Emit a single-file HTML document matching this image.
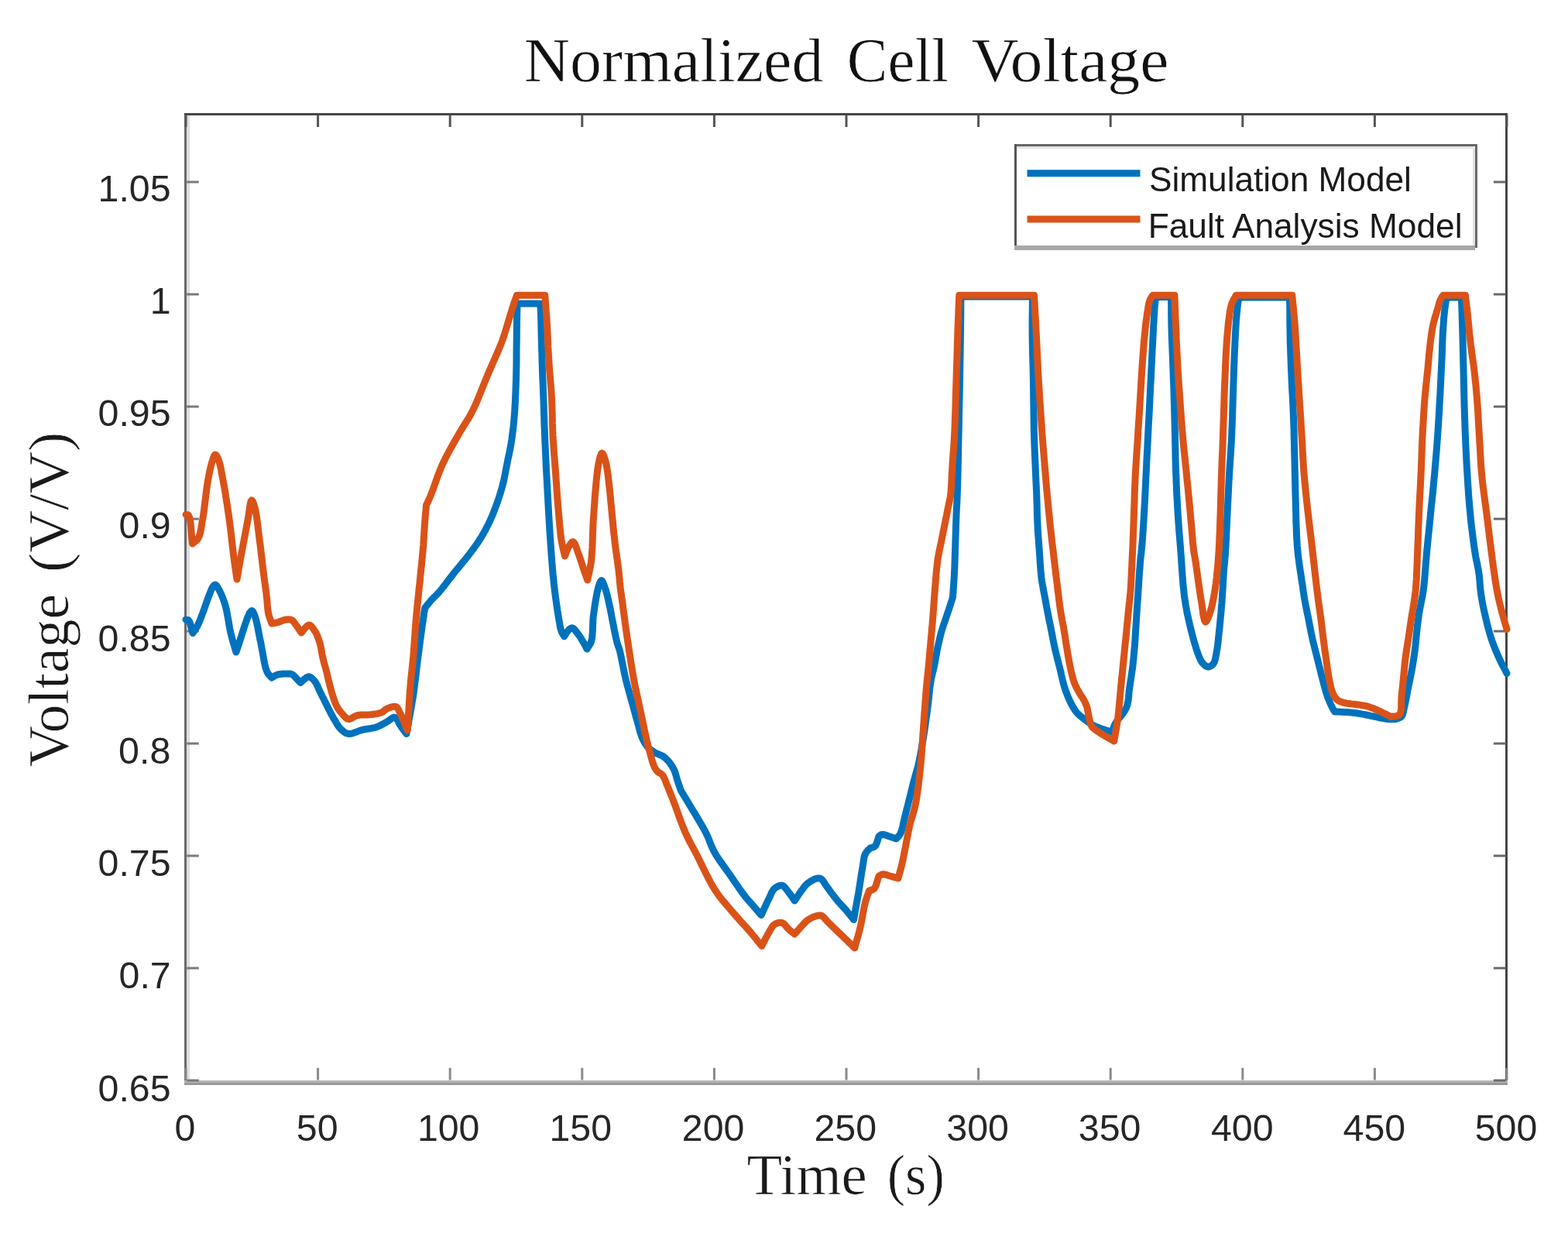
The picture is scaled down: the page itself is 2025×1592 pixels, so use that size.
<!DOCTYPE html><html><head><meta charset="utf-8"><title>Normalized Cell Voltage</title><style>html,body{margin:0;padding:0;background:#fff;width:2025px;height:1592px;overflow:hidden}svg{display:block}</style></head><body>
<svg width="2025" height="1592" viewBox="0 0 2025 1592">
<rect width="2025" height="1592" fill="#fff"/>
<defs><clipPath id="ax"><rect x="241" y="148" width="1704" height="1248"/></clipPath></defs>
<g>
<text transform="translate(676.74,104.50) scale(1.0114,1.0000)" font-family="'Liberation Serif', 'DejaVu Serif', serif" font-size="81" fill="#111" stroke="#fff" stroke-width="0.7">Normalized</text>
<text transform="translate(1093.84,104.50) scale(0.9739,1.0000)" font-family="'Liberation Serif', 'DejaVu Serif', serif" font-size="81" fill="#111" stroke="#fff" stroke-width="0.7">Cell</text>
<text transform="translate(1254.86,104.50) scale(1.0356,1.0000)" font-family="'Liberation Serif', 'DejaVu Serif', serif" font-size="81" fill="#111" stroke="#fff" stroke-width="0.7">Voltage</text>
</g>
<text transform="translate(964.50,1542.00) scale(1.0254,1.0000)" font-family="'Liberation Serif', 'DejaVu Serif', serif" font-size="73" fill="#1a1a1a" stroke="#fff" stroke-width="0.7">Time</text>
<text transform="translate(1145.68,1542.00) scale(0.9646,1.0000)" font-family="'Liberation Serif', 'DejaVu Serif', serif" font-size="73" fill="#1a1a1a" stroke="#fff" stroke-width="0.7">(s)</text>
<text transform="translate(87.50,990.24) rotate(-90) scale(1.0079,1)" font-family="'Liberation Serif', 'DejaVu Serif', serif" font-size="73" fill="#1a1a1a" stroke="#fff" stroke-width="0.7">Voltage</text>
<text transform="translate(87.50,739.04) rotate(-90) scale(1.0411,1)" font-family="'Liberation Serif', 'DejaVu Serif', serif" font-size="73" fill="#1a1a1a" stroke="#fff" stroke-width="0.7">(V/V)</text>
<text transform="translate(126.53,1421.53) scale(1.0000,1.0000)" font-family="'Liberation Sans', Arial, Helvetica, sans-serif" font-size="48.3" fill="#262626">0.65</text>
<text transform="translate(153.58,1276.32) scale(1.0000,1.0000)" font-family="'Liberation Sans', Arial, Helvetica, sans-serif" font-size="48.3" fill="#262626">0.7</text>
<text transform="translate(126.53,1131.11) scale(1.0000,1.0000)" font-family="'Liberation Sans', Arial, Helvetica, sans-serif" font-size="48.3" fill="#262626">0.75</text>
<text transform="translate(153.10,985.90) scale(1.0000,1.0000)" font-family="'Liberation Sans', Arial, Helvetica, sans-serif" font-size="48.3" fill="#262626">0.8</text>
<text transform="translate(126.53,840.69) scale(1.0000,1.0000)" font-family="'Liberation Sans', Arial, Helvetica, sans-serif" font-size="48.3" fill="#262626">0.85</text>
<text transform="translate(153.58,695.48) scale(1.0000,1.0000)" font-family="'Liberation Sans', Arial, Helvetica, sans-serif" font-size="48.3" fill="#262626">0.9</text>
<text transform="translate(126.53,550.27) scale(1.0000,1.0000)" font-family="'Liberation Sans', Arial, Helvetica, sans-serif" font-size="48.3" fill="#262626">0.95</text>
<text transform="translate(193.67,405.06) scale(1.0000,1.0000)" font-family="'Liberation Sans', Arial, Helvetica, sans-serif" font-size="48.3" fill="#262626">1</text>
<text transform="translate(126.53,259.85) scale(1.0000,1.0000)" font-family="'Liberation Sans', Arial, Helvetica, sans-serif" font-size="48.3" fill="#262626">1.05</text>
<text transform="translate(225.48,1472.50) scale(1.0000,1.0000)" font-family="'Liberation Sans', Arial, Helvetica, sans-serif" font-size="48.3" fill="#262626">0</text>
<text transform="translate(382.79,1472.50) scale(1.0000,1.0000)" font-family="'Liberation Sans', Arial, Helvetica, sans-serif" font-size="48.3" fill="#262626">50</text>
<text transform="translate(538.90,1472.50) scale(1.0000,1.0000)" font-family="'Liberation Sans', Arial, Helvetica, sans-serif" font-size="48.3" fill="#262626">100</text>
<text transform="translate(709.50,1472.50) scale(1.0000,1.0000)" font-family="'Liberation Sans', Arial, Helvetica, sans-serif" font-size="48.3" fill="#262626">150</text>
<text transform="translate(880.83,1472.50) scale(1.0000,1.0000)" font-family="'Liberation Sans', Arial, Helvetica, sans-serif" font-size="48.3" fill="#262626">200</text>
<text transform="translate(1051.43,1472.50) scale(1.0000,1.0000)" font-family="'Liberation Sans', Arial, Helvetica, sans-serif" font-size="48.3" fill="#262626">250</text>
<text transform="translate(1222.27,1472.50) scale(1.0000,1.0000)" font-family="'Liberation Sans', Arial, Helvetica, sans-serif" font-size="48.3" fill="#262626">300</text>
<text transform="translate(1392.87,1472.50) scale(1.0000,1.0000)" font-family="'Liberation Sans', Arial, Helvetica, sans-serif" font-size="48.3" fill="#262626">350</text>
<text transform="translate(1563.95,1472.50) scale(1.0000,1.0000)" font-family="'Liberation Sans', Arial, Helvetica, sans-serif" font-size="48.3" fill="#262626">400</text>
<text transform="translate(1734.55,1472.50) scale(1.0000,1.0000)" font-family="'Liberation Sans', Arial, Helvetica, sans-serif" font-size="48.3" fill="#262626">450</text>
<text transform="translate(1904.67,1472.50) scale(1.0000,1.0000)" font-family="'Liberation Sans', Arial, Helvetica, sans-serif" font-size="48.3" fill="#262626">500</text>
<g shape-rendering="crispEdges">
<rect x="238.3" y="146.2" width="3" height="1252" fill="#6a6a6a"/>
<rect x="241.3" y="149" width="3.5" height="1245" fill="#dedede"/>
<rect x="238.3" y="146.2" width="1709" height="2.6" fill="#464646"/>
<rect x="1944.4" y="146.2" width="3" height="1254" fill="#464646"/>
<rect x="238.3" y="1394.5" width="1709" height="3" fill="#b5b5b5"/>
<rect x="238.3" y="1397.5" width="1709" height="3" fill="#999999"/>
</g>
<g><rect x="241.3" y="1393.5" width="15.5" height="3" fill="#7a7a7a"/><rect x="1928.9" y="1393.5" width="15.5" height="3" fill="#6a6a6a"/><rect x="241.3" y="1248.5" width="15.5" height="3" fill="#7a7a7a"/><rect x="1928.9" y="1248.5" width="15.5" height="3" fill="#6a6a6a"/><rect x="241.3" y="1103.5" width="15.5" height="3" fill="#7a7a7a"/><rect x="1928.9" y="1103.5" width="15.5" height="3" fill="#6a6a6a"/><rect x="241.3" y="958.5" width="15.5" height="3" fill="#7a7a7a"/><rect x="1928.9" y="958.5" width="15.5" height="3" fill="#6a6a6a"/><rect x="241.3" y="813.5" width="15.5" height="3" fill="#7a7a7a"/><rect x="1928.9" y="813.5" width="15.5" height="3" fill="#6a6a6a"/><rect x="241.3" y="668.5" width="15.5" height="3" fill="#7a7a7a"/><rect x="1928.9" y="668.5" width="15.5" height="3" fill="#6a6a6a"/><rect x="241.3" y="523.5" width="15.5" height="3" fill="#7a7a7a"/><rect x="1928.9" y="523.5" width="15.5" height="3" fill="#6a6a6a"/><rect x="241.3" y="378.5" width="15.5" height="3" fill="#7a7a7a"/><rect x="1928.9" y="378.5" width="15.5" height="3" fill="#6a6a6a"/><rect x="241.3" y="233.5" width="15.5" height="3" fill="#7a7a7a"/><rect x="1928.9" y="233.5" width="15.5" height="3" fill="#6a6a6a"/><rect x="238.5" y="1378.8" width="3" height="15.7" fill="#8a8a8a"/><rect x="238.5" y="148.8" width="3" height="15.2" fill="#555"/><rect x="409.1" y="1378.8" width="3" height="15.7" fill="#8a8a8a"/><rect x="409.1" y="148.8" width="3" height="15.2" fill="#555"/><rect x="579.7" y="1378.8" width="3" height="15.7" fill="#8a8a8a"/><rect x="579.7" y="148.8" width="3" height="15.2" fill="#555"/><rect x="750.3" y="1378.8" width="3" height="15.7" fill="#8a8a8a"/><rect x="750.3" y="148.8" width="3" height="15.2" fill="#555"/><rect x="920.9" y="1378.8" width="3" height="15.7" fill="#8a8a8a"/><rect x="920.9" y="148.8" width="3" height="15.2" fill="#555"/><rect x="1091.5" y="1378.8" width="3" height="15.7" fill="#8a8a8a"/><rect x="1091.5" y="148.8" width="3" height="15.2" fill="#555"/><rect x="1262.1" y="1378.8" width="3" height="15.7" fill="#8a8a8a"/><rect x="1262.1" y="148.8" width="3" height="15.2" fill="#555"/><rect x="1432.7" y="1378.8" width="3" height="15.7" fill="#8a8a8a"/><rect x="1432.7" y="148.8" width="3" height="15.2" fill="#555"/><rect x="1603.3" y="1378.8" width="3" height="15.7" fill="#8a8a8a"/><rect x="1603.3" y="148.8" width="3" height="15.2" fill="#555"/><rect x="1773.9" y="1378.8" width="3" height="15.7" fill="#8a8a8a"/><rect x="1773.9" y="148.8" width="3" height="15.2" fill="#555"/><rect x="1944.5" y="1378.8" width="3" height="15.7" fill="#8a8a8a"/><rect x="1944.5" y="148.8" width="3" height="15.2" fill="#555"/></g>
<g fill="none" stroke-width="9" stroke-linejoin="round" stroke-linecap="round">
<polyline points="240.0,800.0 240.6,800.1 241.2,800.2 241.8,800.2 242.4,800.4 243.0,800.6 243.5,801.0 244.6,802.6 245.6,805.0 246.4,808.0 247.3,811.3 248.1,814.5 249.0,817.5 250.0,815.9 251.0,814.4 252.0,812.9 253.1,811.4 254.0,809.7 255.0,808.0 256.1,805.7 257.2,803.3 258.2,800.8 259.3,798.1 260.3,795.4 261.4,792.5 262.9,788.6 264.4,784.2 266.0,779.7 267.6,775.2 269.1,771.1 270.5,767.5 271.3,765.5 272.1,763.5 272.8,761.7 273.5,760.1 274.2,758.7 275.0,757.5 275.5,756.9 276.0,756.3 276.5,755.7 277.0,755.3 277.5,755.1 278.0,755.0 278.7,755.3 279.3,755.8 280.0,756.7 280.6,757.7 281.3,758.8 282.0,760.0 283.4,762.4 284.8,765.4 286.3,768.7 287.8,772.3 289.2,776.1 290.5,780.0 292.0,785.6 293.3,791.9 294.5,798.5 295.6,805.1 296.7,811.6 298.0,817.5 299.1,821.9 300.2,826.1 301.4,830.1 302.6,834.0 303.7,838.0 304.9,842.0 308.4,831.9 312.0,820.3 315.7,808.7 319.2,798.6 322.3,791.4 324.9,788.5 325.7,788.7 326.4,789.4 327.1,790.5 327.7,791.9 328.4,793.4 329.0,795.0 330.4,799.2 331.7,804.5 333.0,810.6 334.2,817.2 335.5,823.8 336.8,830.0 338.0,836.5 339.3,843.5 340.5,850.5 341.8,857.2 343.2,863.0 344.9,867.5 345.8,869.2 346.8,870.6 347.9,871.7 348.9,872.8 350.0,873.8 351.0,875.0 352.1,874.3 353.3,873.7 354.4,873.0 355.5,872.3 356.7,871.7 358.0,871.2 359.7,870.8 361.6,870.5 363.6,870.3 365.6,870.1 367.5,870.0 369.2,870.0 370.6,869.9 371.9,869.9 373.1,869.9 374.3,869.9 375.5,870.2 376.8,870.6 378.6,871.7 380.5,873.4 382.3,875.3 384.2,877.4 386.1,879.5 388.0,881.5 388.8,880.7 389.6,880.0 390.4,879.2 391.3,878.4 392.1,877.7 393.0,877.0 394.0,876.3 395.0,875.5 396.0,874.8 397.1,874.2 398.2,873.8 399.2,873.8 400.5,874.1 401.8,874.9 403.1,876.0 404.4,877.2 405.6,878.6 406.8,880.0 408.0,881.8 409.1,883.8 410.1,885.9 411.0,888.1 412.0,890.4 413.0,892.5 414.0,894.6 415.1,896.7 416.1,898.8 417.2,900.8 418.2,902.9 419.2,905.0 420.3,907.1 421.3,909.2 422.4,911.3 423.4,913.4 424.4,915.5 425.5,917.5 426.5,919.5 427.5,921.4 428.5,923.3 429.6,925.2 430.6,927.1 431.8,929.0 433.0,931.1 434.3,933.3 435.6,935.5 437.0,937.6 438.4,939.5 440.0,941.2 441.5,942.7 443.0,944.0 444.6,945.2 446.3,946.3 448.1,947.0 450.0,947.5 452.6,947.5 455.4,946.8 458.3,945.8 461.4,944.6 464.5,943.4 467.5,942.5 470.6,941.8 473.9,941.3 477.1,940.8 480.3,940.2 483.4,939.6 486.2,938.8 488.5,937.9 490.7,936.9 492.8,935.8 494.8,934.7 496.8,933.6 498.8,932.5 500.7,931.3 502.7,929.8 504.7,928.3 506.6,927.1 508.4,926.3 510.0,926.2 511.5,927.1 512.8,928.7 514.0,930.8 515.1,933.2 516.3,935.5 517.5,937.5 518.7,939.2 520.0,940.9 521.2,942.6 522.5,944.2 523.7,945.8 525.0,947.5 526.5,939.2 528.0,930.8 529.5,922.5 531.0,914.2 532.4,905.8 533.8,897.5 534.9,889.1 536.0,880.6 537.1,872.1 538.0,863.6 539.0,855.4 540.0,847.5 540.9,840.8 541.7,834.3 542.6,827.9 543.4,821.7 544.2,815.7 545.0,810.0 545.6,805.5 546.3,801.3 546.9,797.2 547.5,793.1 548.1,789.1 548.8,785.0 549.9,783.5 551.1,782.0 552.2,780.6 553.4,779.1 554.7,777.6 556.0,776.0 557.7,774.1 559.5,772.3 561.4,770.4 563.4,768.4 565.4,766.3 567.5,764.0 570.4,760.5 573.5,756.6 576.6,752.5 579.8,748.3 583.1,744.1 586.2,740.0 589.4,736.1 592.6,732.3 595.8,728.4 598.9,724.6 602.0,720.8 605.0,717.0 607.7,713.5 610.3,710.0 612.8,706.6 615.3,703.1 617.7,699.6 620.0,696.0 622.3,692.3 624.5,688.5 626.6,684.7 628.6,680.9 630.6,676.9 632.5,673.0 634.4,668.9 636.1,664.8 637.8,660.6 639.4,656.4 641.0,652.2 642.5,648.0 643.9,643.9 645.3,639.7 646.5,635.5 647.8,631.4 648.9,627.2 650.0,623.0 651.0,618.9 651.8,614.7 652.6,610.5 653.4,606.3 654.2,602.2 655.0,598.0 655.8,593.9 656.7,589.8 657.6,585.7 658.4,581.6 659.2,577.4 660.0,573.0 660.8,567.9 661.5,562.6 662.2,557.2 662.9,551.7 663.5,546.0 664.0,540.0 664.6,532.3 665.1,524.1 665.5,515.7 665.9,507.1 666.2,498.5 666.5,490.0 666.7,481.5 666.9,472.9 667.0,464.2 667.0,455.7 667.1,447.6 667.2,440.0 667.3,434.5 667.3,429.2 667.4,424.0 667.5,419.2 667.5,414.5 667.6,410.0 667.7,406.7 667.7,403.7 667.8,400.7 667.9,397.8 667.9,394.9 668.0,392.0 698.0,392.0 698.1,395.7 698.2,399.3 698.4,402.9 698.5,406.7 698.6,410.7 698.8,415.0 698.9,422.2 699.1,430.2 699.3,438.8 699.5,447.6 699.8,456.4 700.0,465.0 700.3,473.4 700.6,481.7 700.9,490.1 701.3,498.4 701.6,506.8 701.9,515.0 702.2,522.9 702.4,530.7 702.7,538.4 702.9,546.2 703.2,554.0 703.5,562.0 703.9,570.6 704.3,579.4 704.7,588.2 705.1,597.1 705.5,606.1 706.0,615.0 706.5,624.2 707.0,633.5 707.5,642.8 708.0,652.0 708.5,661.1 709.0,670.0 709.5,677.9 710.0,685.7 710.5,693.4 711.0,700.8 711.5,708.1 712.0,715.0 712.4,720.4 712.8,725.5 713.2,730.5 713.6,735.4 714.0,740.2 714.5,745.0 715.0,749.5 715.4,753.9 715.9,758.3 716.4,762.6 716.9,766.9 717.5,771.2 718.1,775.5 718.7,779.8 719.3,784.0 719.9,788.2 720.6,792.3 721.2,796.2 721.8,799.7 722.4,803.1 722.9,806.4 723.5,809.6 724.2,812.5 725.0,815.0 725.6,816.4 726.2,817.5 726.8,818.6 727.5,819.6 728.1,820.7 728.8,821.8 729.4,820.6 730.1,819.4 730.8,818.2 731.4,817.1 732.2,816.0 733.0,815.0 733.9,814.1 734.8,813.1 735.7,812.1 736.7,811.4 737.7,810.9 738.8,810.8 740.2,811.3 741.7,812.5 743.2,814.2 744.7,816.2 746.2,818.2 747.5,820.0 748.7,821.6 749.8,823.3 750.8,825.0 751.8,826.7 752.8,828.4 753.8,830.0 754.5,831.4 755.3,832.7 756.0,834.0 756.7,835.4 757.4,836.7 758.1,838.0 759.1,836.3 760.1,834.7 761.1,833.2 762.1,831.5 763.0,829.6 763.8,827.5 764.6,823.3 765.1,818.3 765.4,812.8 765.6,807.1 765.8,801.5 766.2,796.2 766.8,791.9 767.4,787.5 768.0,783.2 768.6,779.1 769.3,775.1 770.0,771.2 770.6,768.2 771.1,765.2 771.7,762.3 772.4,759.6 773.0,757.1 773.8,755.0 774.2,753.8 774.7,752.5 775.3,751.3 775.8,750.4 776.4,749.7 776.9,749.5 777.6,749.9 778.3,751.1 779.1,752.8 779.8,754.7 780.6,756.8 781.2,758.8 782.2,761.4 783.0,764.4 783.9,767.5 784.7,770.8 785.5,774.1 786.2,777.5 787.1,781.4 788.0,785.5 788.8,789.7 789.6,793.9 790.4,798.2 791.2,802.5 792.2,807.2 793.1,812.1 794.1,817.0 795.1,821.8 796.1,826.2 797.0,830.0 797.6,831.9 798.1,833.5 798.6,834.9 799.2,836.4 799.7,838.0 800.3,840.0 801.5,844.9 802.7,850.8 804.0,857.4 805.4,864.3 806.8,871.2 808.3,877.7 809.9,884.1 811.7,890.6 813.5,897.1 815.2,903.4 817.0,909.5 818.5,915.0 819.5,918.7 820.4,922.2 821.3,925.5 822.2,928.6 823.1,931.8 824.0,935.0 824.9,938.1 825.7,941.2 826.5,944.3 827.4,947.4 828.4,950.3 829.5,953.0 830.6,955.2 831.7,957.4 832.9,959.5 834.2,961.5 835.6,963.3 837.0,965.0 838.4,966.4 839.8,967.6 841.4,968.7 842.9,969.8 844.5,970.9 846.0,972.0 847.9,972.8 849.8,973.5 851.7,974.3 853.5,975.1 855.3,976.0 857.0,977.0 858.5,978.1 859.9,979.4 861.3,980.7 862.6,982.1 863.8,983.5 865.0,985.0 866.1,986.5 867.2,988.1 868.3,989.8 869.2,991.5 870.2,993.2 871.0,995.0 871.8,997.0 872.5,999.2 873.1,1001.4 873.7,1003.6 874.3,1005.8 875.0,1008.0 875.7,1010.2 876.5,1012.3 877.2,1014.5 878.0,1016.7 878.7,1018.8 879.5,1021.0 881.4,1024.1 883.2,1027.1 885.1,1030.1 886.9,1033.2 888.9,1036.5 891.0,1040.0 894.2,1045.3 897.8,1051.2 901.5,1057.4 905.2,1063.6 908.7,1069.7 911.7,1075.4 913.7,1079.7 915.5,1083.8 917.0,1087.9 918.6,1091.9 920.4,1095.9 922.5,1100.0 925.4,1104.9 928.7,1110.0 932.3,1115.0 935.9,1120.1 939.5,1125.1 943.0,1130.0 946.2,1134.7 949.5,1139.5 952.8,1144.3 955.9,1148.9 958.9,1153.0 961.5,1156.5 962.8,1158.2 964.0,1159.6 965.1,1160.9 966.2,1162.2 967.4,1163.5 968.7,1165.0 970.9,1167.4 973.2,1170.1 975.6,1172.9 978.1,1175.8 980.7,1178.7 983.1,1181.5 984.9,1177.6 986.7,1173.6 988.6,1169.6 990.4,1165.7 992.1,1162.1 993.8,1158.8 994.8,1156.6 995.7,1154.4 996.6,1152.4 997.6,1150.6 998.7,1148.9 1000.0,1147.5 1001.5,1146.3 1003.1,1145.2 1004.9,1144.2 1006.7,1143.5 1008.4,1143.2 1010.0,1143.2 1011.6,1143.9 1013.1,1145.2 1014.6,1146.9 1016.0,1148.8 1017.4,1150.7 1018.8,1152.5 1020.1,1154.2 1021.3,1155.9 1022.6,1157.7 1023.8,1159.5 1025.0,1161.2 1026.2,1163.0 1027.7,1160.8 1029.1,1158.6 1030.6,1156.4 1032.0,1154.2 1033.5,1152.0 1035.0,1150.0 1036.4,1148.2 1037.7,1146.4 1039.0,1144.6 1040.5,1142.9 1042.0,1141.4 1043.8,1140.0 1046.0,1138.5 1048.5,1136.9 1051.2,1135.5 1053.9,1134.4 1056.5,1133.9 1058.8,1134.0 1060.7,1135.0 1062.4,1136.7 1064.0,1138.9 1065.5,1141.4 1067.1,1143.9 1068.8,1146.2 1070.8,1148.8 1072.8,1151.6 1074.9,1154.4 1077.0,1157.2 1079.2,1159.9 1081.2,1162.5 1083.1,1164.7 1085.0,1166.8 1086.9,1168.9 1088.8,1170.9 1090.7,1172.9 1092.5,1175.0 1094.2,1177.1 1095.9,1179.1 1097.6,1181.2 1099.2,1183.3 1100.8,1185.3 1102.5,1187.4 1103.6,1181.6 1104.6,1175.7 1105.7,1169.8 1106.7,1164.0 1107.8,1158.2 1108.8,1152.5 1109.6,1147.1 1110.5,1141.7 1111.3,1136.3 1112.1,1131.0 1112.9,1126.0 1113.8,1121.2 1114.3,1117.7 1114.8,1114.3 1115.3,1111.0 1115.8,1107.9 1116.5,1105.0 1117.5,1102.5 1118.4,1101.0 1119.4,1099.6 1120.4,1098.4 1121.6,1097.3 1122.7,1096.2 1123.8,1095.0 1124.8,1094.6 1125.9,1094.4 1127.0,1094.1 1128.1,1093.7 1129.1,1093.2 1130.0,1092.5 1131.1,1091.0 1132.0,1089.1 1132.8,1086.9 1133.5,1084.6 1134.2,1082.2 1135.0,1080.0 1135.6,1079.5 1136.2,1079.0 1136.7,1078.5 1137.3,1078.1 1138.0,1077.7 1138.8,1077.5 1140.1,1077.5 1141.7,1077.7 1143.5,1078.2 1145.3,1078.8 1147.1,1079.5 1148.8,1080.0 1150.2,1080.5 1151.7,1081.0 1153.2,1081.5 1154.6,1082.0 1156.0,1082.5 1157.5,1083.0 1158.4,1081.9 1159.4,1080.9 1160.3,1079.8 1161.3,1078.7 1162.2,1077.5 1163.0,1076.0 1164.1,1073.2 1165.1,1069.9 1166.0,1066.3 1166.8,1062.5 1167.6,1058.7 1168.5,1055.0 1169.4,1051.4 1170.3,1047.7 1171.2,1044.1 1172.2,1040.4 1173.1,1036.7 1174.0,1033.0 1175.0,1029.1 1176.0,1025.1 1177.0,1021.1 1178.0,1017.0 1179.0,1013.0 1180.0,1009.0 1181.1,1005.1 1182.2,1001.2 1183.3,997.3 1184.4,993.4 1185.5,989.3 1186.5,985.0 1187.7,979.3 1188.9,973.3 1190.0,967.1 1191.1,960.7 1192.2,954.3 1193.2,948.0 1194.2,941.7 1195.1,935.2 1196.0,928.8 1196.9,922.4 1197.7,916.1 1198.5,910.0 1199.1,904.7 1199.7,899.5 1200.2,894.4 1200.7,889.4 1201.3,884.6 1202.0,880.0 1202.7,876.4 1203.4,873.1 1204.2,869.9 1205.0,866.6 1205.8,863.4 1206.5,860.0 1207.3,856.1 1208.0,852.1 1208.7,848.0 1209.5,844.0 1210.2,839.9 1211.0,836.0 1211.8,832.4 1212.6,828.8 1213.4,825.3 1214.2,821.8 1215.1,818.4 1216.0,815.0 1216.9,811.9 1217.9,808.8 1219.0,805.8 1220.0,802.8 1221.0,799.9 1222.0,797.0 1222.9,794.4 1223.7,791.8 1224.6,789.3 1225.4,786.8 1226.2,784.4 1227.0,782.0 1227.6,780.1 1228.2,778.2 1228.8,776.4 1229.4,774.6 1229.9,772.8 1230.5,771.0 1230.8,765.9 1231.2,760.8 1231.6,755.7 1231.9,750.6 1232.2,745.3 1232.5,740.0 1232.8,734.0 1233.0,727.8 1233.2,721.5 1233.4,715.1 1233.6,708.8 1233.8,702.5 1234.0,696.2 1234.2,689.7 1234.4,683.3 1234.6,676.9 1234.8,670.8 1235.0,665.0 1235.2,660.7 1235.4,656.8 1235.6,653.0 1235.8,649.2 1236.0,644.9 1236.2,640.0 1236.6,629.7 1236.9,617.7 1237.2,604.5 1237.5,590.8 1237.7,577.1 1238.0,564.0 1238.3,551.5 1238.5,539.0 1238.8,526.5 1239.0,514.2 1239.3,502.0 1239.5,490.0 1239.7,479.2 1239.9,468.4 1240.1,457.8 1240.2,447.4 1240.4,437.2 1240.5,427.5 1240.6,419.6 1240.7,412.1 1240.8,404.8 1240.8,397.6 1240.9,390.3 1241.0,383.0 1333.5,383.0 1333.4,390.3 1333.3,397.6 1333.2,404.8 1333.1,412.1 1333.1,419.6 1333.1,427.5 1333.2,437.2 1333.4,447.4 1333.6,457.8 1333.9,468.4 1334.2,479.2 1334.4,490.0 1334.6,502.0 1334.7,514.2 1334.9,526.5 1335.1,539.0 1335.3,551.5 1335.6,564.0 1336.0,576.9 1336.6,590.2 1337.2,603.6 1337.7,616.6 1338.3,628.9 1338.8,640.0 1339.0,647.0 1339.2,653.5 1339.3,659.6 1339.5,665.5 1339.7,671.4 1340.0,677.5 1340.3,683.8 1340.7,690.1 1341.2,696.5 1341.6,702.8 1342.1,708.9 1342.5,715.0 1342.9,720.4 1343.2,725.8 1343.6,731.2 1344.0,736.4 1344.5,741.4 1345.0,746.2 1345.5,750.1 1346.1,753.8 1346.8,757.4 1347.4,761.0 1348.1,764.5 1348.8,768.0 1349.4,771.4 1350.0,774.6 1350.6,777.9 1351.2,781.2 1351.8,784.5 1352.5,788.0 1353.3,792.0 1354.1,796.1 1354.9,800.3 1355.8,804.6 1356.7,808.8 1357.5,813.0 1358.3,817.2 1359.1,821.3 1359.9,825.5 1360.7,829.7 1361.6,833.8 1362.5,838.0 1363.5,842.2 1364.5,846.3 1365.5,850.5 1366.6,854.7 1367.7,858.8 1368.8,863.0 1369.8,867.2 1370.7,871.5 1371.7,875.8 1372.7,880.0 1373.8,884.1 1375.0,888.0 1376.1,891.4 1377.3,894.6 1378.5,897.8 1379.8,900.9 1381.1,903.9 1382.5,906.8 1383.7,909.1 1384.9,911.4 1386.2,913.6 1387.5,915.7 1388.8,917.6 1390.0,919.2 1390.8,920.2 1391.5,921.1 1392.3,921.8 1393.1,922.6 1394.0,923.4 1395.0,924.2 1397.2,926.1 1399.9,928.2 1402.8,930.5 1405.9,932.7 1409.2,934.9 1412.5,936.8 1416.2,938.5 1420.0,940.0 1424.1,941.4 1428.1,942.8 1432.2,944.1 1436.2,945.5 1436.8,943.8 1437.3,942.1 1437.8,940.4 1438.4,938.7 1439.1,936.9 1440.0,935.0 1442.0,931.8 1444.6,928.3 1447.5,924.7 1450.4,920.9 1453.0,917.0 1455.0,913.0 1456.2,909.0 1457.0,904.9 1457.5,900.7 1457.9,896.5 1458.2,892.2 1458.8,888.0 1459.4,883.8 1460.0,879.7 1460.7,875.5 1461.3,871.3 1461.9,867.2 1462.5,863.0 1463.0,858.9 1463.4,854.9 1463.9,850.8 1464.2,846.7 1464.6,842.5 1465.0,838.0 1465.5,832.2 1465.9,826.1 1466.3,819.7 1466.7,813.3 1467.1,806.8 1467.5,800.5 1467.9,794.2 1468.3,788.0 1468.7,781.7 1469.2,775.5 1469.6,769.2 1470.0,763.0 1470.4,756.8 1470.8,750.5 1471.2,744.3 1471.6,738.1 1472.1,732.2 1472.5,726.5 1472.9,722.1 1473.3,718.0 1473.8,714.0 1474.2,710.0 1474.6,705.9 1475.0,701.5 1475.5,695.8 1475.9,689.8 1476.3,683.6 1476.7,677.2 1477.1,670.7 1477.5,664.0 1477.9,656.1 1478.4,647.9 1478.8,639.5 1479.2,630.9 1479.6,622.4 1480.0,614.0 1480.4,605.7 1480.8,597.3 1481.2,589.0 1481.7,580.6 1482.1,572.3 1482.5,564.0 1482.9,555.8 1483.3,547.6 1483.8,539.5 1484.2,531.4 1484.6,523.2 1485.0,515.0 1485.4,506.6 1485.8,498.1 1486.3,489.6 1486.7,481.2 1487.1,472.9 1487.5,465.0 1487.8,458.4 1488.1,452.0 1488.5,445.7 1488.8,439.5 1489.1,433.5 1489.4,427.5 1489.7,422.0 1490.0,416.4 1490.3,410.8 1490.6,405.5 1490.9,400.6 1491.2,396.2 1491.5,393.8 1491.7,391.6 1491.9,389.5 1492.1,387.5 1492.3,385.6 1492.5,383.5 1512.5,383.5 1512.6,390.8 1512.7,398.1 1512.7,405.3 1512.8,412.6 1512.9,420.0 1513.1,427.5 1513.3,435.7 1513.7,444.2 1514.0,452.7 1514.4,461.2 1514.7,469.5 1515.0,477.5 1515.2,484.0 1515.4,490.2 1515.7,496.3 1515.9,502.3 1516.1,508.5 1516.2,515.0 1516.5,522.8 1516.7,530.8 1516.9,539.1 1517.1,547.4 1517.3,555.7 1517.5,564.0 1517.7,572.3 1517.9,580.6 1518.0,589.0 1518.2,597.3 1518.5,605.7 1518.8,614.0 1519.1,622.3 1519.4,630.7 1519.8,639.0 1520.3,647.3 1520.7,655.7 1521.2,664.0 1521.8,672.3 1522.4,680.7 1523.0,689.0 1523.7,697.4 1524.4,705.7 1525.0,714.0 1525.6,722.4 1526.2,731.0 1526.8,739.6 1527.4,747.9 1528.0,755.8 1528.8,763.0 1529.3,767.8 1529.9,772.3 1530.6,776.6 1531.2,780.7 1531.9,784.5 1532.5,788.0 1532.9,790.2 1533.3,792.2 1533.7,794.0 1534.1,795.8 1534.5,797.8 1535.0,800.0 1535.9,803.7 1536.8,807.8 1537.9,812.1 1539.0,816.6 1540.1,820.9 1541.2,825.0 1542.2,828.5 1543.3,832.1 1544.3,835.6 1545.3,838.9 1546.4,842.1 1547.5,845.0 1548.3,847.1 1549.2,849.1 1550.0,851.1 1550.9,852.9 1551.9,854.5 1553.0,856.0 1554.0,857.2 1555.2,858.3 1556.3,859.3 1557.6,860.2 1558.8,860.7 1560.0,861.0 1561.2,860.9 1562.4,860.5 1563.7,859.9 1564.9,859.1 1566.0,858.1 1567.0,857.0 1568.2,855.0 1569.1,852.4 1569.8,849.4 1570.4,846.3 1571.0,843.1 1571.5,840.0 1572.1,836.8 1572.5,833.6 1572.9,830.3 1573.3,826.9 1573.6,823.5 1574.0,820.0 1574.4,816.0 1574.9,811.9 1575.3,807.7 1575.7,803.4 1576.1,799.2 1576.5,795.0 1576.9,790.9 1577.2,786.8 1577.5,782.7 1577.9,778.6 1578.2,774.4 1578.5,770.0 1578.8,764.8 1579.2,759.3 1579.5,753.7 1579.8,748.1 1580.1,742.7 1580.5,737.5 1580.8,733.5 1581.2,729.7 1581.5,726.1 1581.8,722.3 1582.2,718.4 1582.5,714.0 1582.9,706.7 1583.4,698.7 1583.8,690.2 1584.2,681.4 1584.6,672.5 1585.0,664.0 1585.4,655.7 1585.8,647.3 1586.2,639.0 1586.6,630.7 1587.0,622.3 1587.5,614.0 1588.0,605.8 1588.5,597.7 1589.1,589.6 1589.6,581.4 1590.1,572.9 1590.6,564.0 1591.1,552.3 1591.5,539.9 1591.9,527.0 1592.3,514.1 1592.7,501.7 1593.1,490.0 1593.4,481.0 1593.7,472.2 1594.0,463.7 1594.3,455.4 1594.7,447.5 1595.0,440.0 1595.3,434.3 1595.6,428.8 1595.9,423.5 1596.2,418.4 1596.5,413.5 1596.9,408.8 1597.3,404.8 1597.7,400.7 1598.1,396.7 1598.5,393.1 1599.0,389.9 1599.4,387.5 1599.6,386.7 1599.8,386.1 1599.9,385.6 1600.1,385.1 1600.3,384.5 1600.5,384.0 1665.6,384.0 1665.7,393.4 1665.8,402.8 1665.8,412.2 1665.9,421.6 1666.1,430.9 1666.2,440.0 1666.5,448.6 1666.8,457.1 1667.1,465.6 1667.4,474.0 1667.8,482.1 1668.1,490.0 1668.4,496.6 1668.7,502.9 1669.1,509.1 1669.4,515.2 1669.7,521.3 1670.0,527.5 1670.2,533.5 1670.5,539.2 1670.7,545.0 1670.9,550.9 1671.1,557.2 1671.2,564.0 1671.5,575.2 1671.8,587.6 1672.1,600.8 1672.4,614.3 1672.7,627.5 1673.0,640.0 1673.3,650.7 1673.6,661.5 1673.8,672.1 1674.2,682.2 1674.5,691.6 1675.0,700.0 1675.3,704.8 1675.7,709.1 1676.1,713.2 1676.5,717.1 1677.0,721.0 1677.5,725.0 1678.1,729.2 1678.7,733.3 1679.3,737.5 1680.0,741.7 1680.6,745.8 1681.2,750.0 1681.9,754.2 1682.5,758.3 1683.0,762.5 1683.7,766.7 1684.3,770.8 1685.0,775.0 1685.8,779.2 1686.6,783.3 1687.4,787.5 1688.3,791.7 1689.2,795.8 1690.0,800.0 1690.8,804.2 1691.6,808.3 1692.4,812.5 1693.2,816.7 1694.1,820.8 1695.0,825.0 1696.0,829.2 1697.0,833.3 1698.0,837.5 1699.1,841.7 1700.2,845.8 1701.2,850.0 1702.3,854.2 1703.3,858.4 1704.4,862.6 1705.4,866.8 1706.4,870.9 1707.5,875.0 1708.5,878.9 1709.5,882.8 1710.5,886.6 1711.6,890.4 1712.6,894.0 1713.8,897.5 1714.7,900.3 1715.8,903.0 1716.9,905.6 1717.9,908.1 1719.0,910.4 1720.0,912.5 1720.6,913.8 1721.3,914.9 1721.9,915.9 1722.5,916.9 1723.1,918.0 1723.8,919.0 1725.8,919.1 1727.8,919.1 1729.8,919.1 1731.9,919.2 1734.0,919.3 1736.2,919.4 1739.2,919.6 1742.2,919.8 1745.4,920.1 1748.6,920.4 1751.8,920.8 1755.0,921.2 1758.1,921.8 1761.3,922.4 1764.4,923.0 1767.5,923.7 1770.6,924.4 1773.8,925.0 1776.9,925.6 1780.2,926.3 1783.5,927.0 1786.7,927.6 1789.7,928.2 1792.5,928.5 1794.3,928.6 1796.1,928.7 1797.7,928.6 1799.3,928.6 1800.9,928.5 1802.5,928.5 1803.8,928.0 1805.1,927.5 1806.5,927.1 1807.8,926.6 1809.0,925.9 1810.0,925.0 1811.0,923.5 1811.7,921.7 1812.3,919.6 1812.7,917.3 1813.2,914.9 1813.8,912.5 1814.6,908.8 1815.4,904.8 1816.3,900.5 1817.1,896.2 1817.9,891.8 1818.8,887.5 1819.6,883.3 1820.5,879.2 1821.3,875.0 1822.2,870.8 1823.0,866.7 1823.8,862.5 1824.5,858.3 1825.1,854.2 1825.8,850.0 1826.4,845.8 1827.0,841.7 1827.5,837.5 1828.0,833.3 1828.4,829.1 1828.8,824.9 1829.2,820.7 1829.6,816.6 1830.0,812.5 1830.4,808.7 1830.9,805.0 1831.4,801.3 1831.9,797.6 1832.4,793.8 1833.0,790.0 1833.8,785.7 1834.6,781.5 1835.5,777.2 1836.4,772.7 1837.3,768.0 1838.1,763.0 1839.0,755.7 1839.8,747.8 1840.4,739.5 1841.1,730.9 1841.8,722.4 1842.5,714.0 1843.3,705.7 1844.1,697.4 1845.0,689.0 1845.8,680.7 1846.7,672.3 1847.5,664.0 1848.3,655.7 1849.2,647.3 1850.1,639.0 1850.9,630.7 1851.7,622.3 1852.5,614.0 1853.2,605.7 1853.9,597.3 1854.6,589.0 1855.3,580.6 1855.9,572.3 1856.5,564.0 1857.1,555.8 1857.6,547.7 1858.1,539.5 1858.6,531.4 1859.0,523.2 1859.5,515.0 1860.0,506.6 1860.4,498.1 1860.8,489.6 1861.2,481.2 1861.6,472.9 1862.0,465.0 1862.3,458.4 1862.5,451.8 1862.7,445.4 1862.9,439.2 1863.2,433.2 1863.5,427.5 1863.8,423.0 1864.1,418.6 1864.4,414.4 1864.7,410.4 1865.1,406.4 1865.5,402.5 1865.9,399.3 1866.3,396.1 1866.7,393.1 1867.1,390.1 1867.6,387.1 1868.0,384.0 1887.5,384.0 1887.7,391.2 1887.9,398.4 1888.1,405.6 1888.3,412.8 1888.5,420.1 1888.8,427.5 1889.0,435.6 1889.2,443.9 1889.4,452.3 1889.6,460.7 1889.8,469.1 1890.0,477.5 1890.2,485.9 1890.4,494.5 1890.6,503.0 1890.8,511.4 1891.0,519.6 1891.2,527.5 1891.4,533.8 1891.6,539.9 1891.8,545.8 1892.0,551.6 1892.2,557.7 1892.5,564.0 1892.8,571.9 1893.2,580.1 1893.6,588.5 1894.0,597.0 1894.5,605.6 1895.0,614.0 1895.5,622.3 1896.1,630.7 1896.6,639.0 1897.3,647.3 1898.0,655.7 1898.8,664.0 1899.6,672.5 1900.6,681.3 1901.7,690.0 1902.8,698.6 1903.9,706.6 1905.0,714.0 1905.8,718.8 1906.7,723.3 1907.6,727.5 1908.4,731.6 1909.2,735.7 1909.9,740.0 1910.5,744.6 1910.9,749.3 1911.3,754.1 1911.7,758.8 1912.2,763.6 1912.8,768.3 1913.6,773.0 1914.4,777.7 1915.3,782.4 1916.3,787.1 1917.3,791.8 1918.4,796.5 1919.5,801.3 1920.7,806.1 1921.9,810.9 1923.2,815.6 1924.6,820.3 1926.0,824.8 1927.4,828.9 1928.9,832.9 1930.5,836.9 1932.1,840.8 1933.7,844.6 1935.4,848.4 1937.1,852.0 1938.8,855.6 1940.6,859.1 1942.4,862.5 1944.2,866.0 1946.0,869.5" stroke="#0072BD"/>
<polyline points="240.0,664.5 240.6,664.6 241.2,664.6 241.8,664.7 242.4,664.8 243.0,665.0 243.5,665.5 244.9,668.6 245.9,673.9 246.6,680.6 247.2,688.0 247.8,695.3 248.5,702.0 249.8,700.9 251.1,699.9 252.4,698.9 253.7,697.8 254.9,696.6 256.0,695.0 257.4,691.9 258.5,688.3 259.4,684.1 260.2,679.6 260.9,674.9 261.8,670.0 263.0,662.5 264.1,653.9 265.2,644.9 266.3,635.9 267.4,627.5 268.6,620.0 269.5,615.3 270.3,610.9 271.2,606.7 272.1,602.8 273.0,599.2 274.0,596.0 274.6,594.0 275.3,592.0 275.9,590.1 276.6,588.5 277.3,587.4 278.0,587.0 278.6,587.2 279.3,587.9 280.0,588.9 280.7,590.1 281.4,591.5 282.0,593.0 283.1,596.2 284.2,600.2 285.2,604.7 286.1,609.6 287.0,614.8 288.0,620.0 289.4,627.4 290.8,635.5 292.1,644.0 293.5,652.7 294.8,661.5 296.0,670.0 297.1,678.5 298.2,687.2 299.2,695.9 300.1,704.4 301.1,712.5 302.0,720.0 302.7,725.1 303.4,729.9 304.0,734.5 304.7,739.0 305.3,743.4 306.0,748.0 306.8,743.4 307.6,739.0 308.3,734.5 309.1,729.9 310.0,725.1 310.9,720.0 312.3,712.3 313.9,703.7 315.6,694.8 317.3,685.9 318.9,677.4 320.3,670.0 321.1,665.0 321.9,659.6 322.6,654.5 323.3,650.2 324.1,647.2 325.0,646.0 325.6,646.3 326.3,647.3 327.0,648.9 327.7,650.8 328.4,652.9 329.0,655.0 330.2,659.9 331.2,666.0 332.2,672.9 333.1,680.3 334.0,687.7 334.9,695.0 336.0,703.2 337.0,711.9 338.1,720.8 339.1,729.5 340.1,737.7 341.0,745.0 341.6,749.5 342.2,753.7 342.7,757.6 343.2,761.3 343.8,765.1 344.2,769.0 344.7,773.0 345.0,777.1 345.3,781.2 345.7,785.2 346.1,789.0 346.8,792.5 347.3,794.8 348.0,797.0 348.7,799.0 349.5,801.0 350.3,803.0 351.0,805.0 352.1,804.8 353.3,804.6 354.4,804.5 355.6,804.3 356.7,804.0 358.0,803.8 359.8,803.2 361.6,802.5 363.6,801.7 365.6,801.0 367.5,800.4 369.2,800.0 370.6,799.9 371.9,799.8 373.2,799.8 374.4,799.9 375.6,800.1 376.8,800.6 377.9,801.4 379.0,802.5 380.0,803.8 381.0,805.2 382.0,806.6 383.0,808.0 384.1,809.4 385.1,810.9 386.2,812.4 387.2,814.0 388.2,815.5 389.2,817.0 390.0,816.0 390.8,814.9 391.6,813.9 392.3,812.9 393.2,811.9 394.0,811.0 394.8,810.1 395.7,809.2 396.5,808.3 397.4,807.6 398.3,807.1 399.2,807.0 400.5,807.4 401.8,808.4 403.1,809.8 404.4,811.5 405.6,813.3 406.8,815.0 408.0,817.1 409.2,819.5 410.2,822.0 411.2,824.6 412.1,827.3 413.0,830.0 413.8,833.0 414.4,836.1 415.0,839.2 415.5,842.4 416.1,845.6 416.8,848.8 417.5,851.9 418.3,854.9 419.1,858.0 420.0,861.1 420.9,864.2 421.8,867.5 422.7,871.5 423.7,875.7 424.7,880.0 425.8,884.3 426.9,888.5 428.0,892.5 429.0,896.0 430.1,899.4 431.2,902.8 432.3,906.0 433.6,909.1 435.0,912.0 436.3,914.3 437.7,916.5 439.2,918.5 440.8,920.4 442.3,922.2 443.8,923.8 444.8,924.8 445.8,925.9 446.7,926.8 447.7,927.6 448.8,928.2 450.0,928.5 451.6,928.4 453.3,927.7 455.2,926.7 457.1,925.5 459.1,924.5 461.2,923.8 464.1,923.3 467.3,923.0 470.5,922.9 473.8,922.9 477.0,922.8 480.0,922.5 482.3,922.2 484.5,921.9 486.7,921.6 488.7,921.2 490.7,920.6 492.5,920.0 493.9,919.3 495.1,918.4 496.3,917.5 497.4,916.6 498.6,915.7 500.0,915.0 501.8,914.2 503.7,913.5 505.8,912.8 507.8,912.3 509.6,912.2 511.2,912.5 512.6,913.4 513.7,914.7 514.7,916.5 515.6,918.4 516.5,920.4 517.5,922.5 518.9,925.5 520.4,928.8 521.9,932.3 523.3,935.9 524.8,939.5 526.2,943.0 526.9,933.2 527.5,923.2 528.1,913.2 528.7,903.4 529.3,893.9 530.0,885.0 530.6,878.3 531.2,872.1 531.9,866.1 532.5,860.1 533.1,854.0 533.8,847.5 534.4,839.5 535.0,831.1 535.6,822.5 536.2,813.9 536.8,805.5 537.5,797.5 538.1,791.0 538.7,784.8 539.3,778.7 539.9,772.7 540.6,766.5 541.2,760.0 542.1,752.0 542.9,743.6 543.8,735.0 544.7,726.4 545.5,718.0 546.2,710.0 546.8,703.3 547.2,696.7 547.6,690.2 548.0,684.0 548.4,678.0 548.8,672.5 549.1,668.7 549.4,665.2 549.7,661.9 550.0,658.6 550.3,655.3 550.6,652.0 551.5,650.1 552.4,648.3 553.2,646.5 554.1,644.5 555.1,642.4 556.1,640.0 558.2,634.7 560.4,628.4 562.9,621.4 565.5,614.1 568.3,606.9 571.2,600.0 574.5,593.2 578.0,586.3 581.7,579.5 585.5,572.8 589.2,566.3 592.8,560.0 595.8,554.8 598.8,549.9 601.8,545.2 604.8,540.4 607.7,535.4 610.5,530.0 613.8,523.1 617.0,515.8 620.1,508.1 623.2,500.4 626.3,492.6 629.4,485.0 632.7,477.4 636.1,469.5 639.6,461.7 642.9,454.1 646.0,446.8 648.6,440.0 650.2,435.4 651.6,431.2 652.9,427.0 654.1,423.0 655.3,419.1 656.5,415.0 657.8,410.8 659.1,406.6 660.4,402.3 661.7,398.2 662.9,394.4 664.0,391.0 664.6,389.1 665.2,387.4 665.8,385.8 666.4,384.3 666.9,382.8 667.5,381.2 703.8,381.2 704.2,386.8 704.6,392.3 705.0,397.7 705.4,403.3 705.9,409.0 706.2,415.0 706.7,422.8 707.1,430.9 707.5,439.4 707.8,448.0 708.3,456.6 708.8,465.0 709.3,473.4 710.0,481.7 710.7,490.1 711.4,498.4 712.0,506.8 712.5,515.0 712.8,522.9 713.1,530.8 713.3,538.6 713.4,546.4 713.7,554.2 714.0,562.0 714.5,570.0 715.0,577.9 715.6,585.9 716.2,593.9 716.9,601.9 717.5,610.0 718.1,618.4 718.7,626.9 719.3,635.4 719.9,643.8 720.6,652.1 721.2,660.0 721.8,666.7 722.4,673.3 722.9,679.8 723.6,686.1 724.2,692.0 725.0,697.5 725.7,701.3 726.4,704.8 727.1,708.1 727.9,711.4 728.7,714.7 729.4,718.0 730.3,715.8 731.2,713.4 732.1,711.1 733.0,708.9 734.0,706.8 735.0,705.0 735.8,703.7 736.6,702.5 737.5,701.3 738.3,700.3 739.2,699.7 740.0,699.5 741.3,700.5 742.6,702.7 743.9,705.9 745.1,709.4 746.3,713.0 747.5,716.2 748.6,719.3 749.7,722.5 750.8,725.7 751.8,728.9 752.8,732.0 753.8,735.0 754.6,737.5 755.4,739.8 756.3,742.1 757.1,744.4 757.9,746.7 758.8,749.0 759.6,744.7 760.5,740.5 761.4,736.3 762.3,732.0 763.1,727.4 763.8,722.5 764.4,715.1 764.9,707.0 765.2,698.5 765.5,689.8 765.8,681.0 766.2,672.5 766.8,664.0 767.4,655.3 768.0,646.6 768.6,638.1 769.3,630.0 770.0,622.5 770.5,617.3 771.1,612.2 771.6,607.4 772.3,602.8 773.0,598.7 773.8,595.0 774.3,592.8 774.9,590.5 775.5,588.4 776.2,586.7 776.8,585.5 777.5,585.0 778.3,585.6 779.2,587.1 780.1,589.4 780.9,592.0 781.8,594.8 782.5,597.5 783.3,601.1 784.0,605.0 784.6,609.1 785.2,613.4 785.7,617.9 786.2,622.5 786.9,628.3 787.6,634.4 788.2,640.8 788.8,647.2 789.4,653.7 790.0,660.0 790.6,666.3 791.2,672.5 791.8,678.8 792.4,685.0 793.1,691.3 793.8,697.5 794.5,703.9 795.4,710.3 796.3,716.8 797.2,723.1 798.0,729.2 798.8,735.0 799.2,739.3 799.7,743.5 800.1,747.5 800.4,751.4 800.8,755.2 801.2,759.0 801.6,762.1 802.0,765.1 802.4,768.0 802.8,770.9 803.3,774.1 803.8,777.5 804.5,783.1 805.3,789.3 806.2,795.9 807.1,802.6 807.9,809.0 808.8,815.0 809.4,819.4 810.0,823.5 810.6,827.5 811.2,831.5 811.8,835.6 812.5,840.0 813.4,845.8 814.3,852.0 815.3,858.4 816.4,864.9 817.5,871.3 818.6,877.7 819.8,884.0 821.1,890.3 822.5,896.6 823.9,902.8 825.2,909.1 826.6,915.4 827.9,921.8 829.3,928.4 830.7,935.0 832.0,941.4 833.4,947.5 834.6,953.0 835.4,956.6 836.2,959.8 837.0,962.9 837.8,966.0 838.6,968.9 839.4,972.0 840.3,975.2 841.2,978.4 842.1,981.7 843.0,984.8 844.0,987.6 845.0,990.0 845.6,991.2 846.2,992.3 846.8,993.3 847.5,994.2 848.2,995.1 849.0,996.0 850.0,996.9 851.1,997.6 852.3,998.3 853.5,999.1 854.7,999.9 855.7,1001.0 856.9,1002.8 858.0,1005.0 859.0,1007.3 860.0,1009.8 861.0,1012.4 862.0,1015.0 863.3,1018.0 864.5,1021.1 865.8,1024.3 867.1,1027.7 868.5,1031.2 870.0,1035.0 872.3,1041.0 874.7,1047.7 877.2,1054.8 879.9,1062.0 882.6,1069.0 885.3,1075.4 887.6,1080.4 890.0,1085.1 892.3,1089.6 894.8,1094.2 897.3,1098.9 900.0,1104.0 903.6,1111.2 907.4,1118.9 911.3,1127.0 915.4,1135.1 919.6,1142.8 924.0,1150.0 928.1,1155.9 932.5,1161.6 937.0,1167.0 941.4,1172.2 945.8,1177.2 950.0,1182.0 953.3,1185.8 956.5,1189.4 959.7,1192.9 962.8,1196.3 965.8,1199.6 968.8,1203.0 971.4,1206.1 973.9,1209.2 976.4,1212.3 978.8,1215.4 981.3,1218.4 983.8,1221.5 985.4,1218.2 987.1,1214.9 988.8,1211.5 990.5,1208.3 992.2,1205.2 993.8,1202.5 994.8,1200.7 995.7,1199.1 996.7,1197.5 997.6,1196.0 998.7,1194.8 1000.0,1193.8 1001.5,1192.9 1003.1,1192.2 1004.9,1191.6 1006.7,1191.2 1008.4,1191.2 1010.0,1191.4 1011.6,1192.2 1013.1,1193.5 1014.5,1195.1 1015.9,1196.8 1017.3,1198.5 1018.8,1200.0 1020.0,1201.1 1021.3,1202.1 1022.5,1203.1 1023.8,1204.1 1025.0,1205.0 1026.2,1206.0 1027.7,1204.4 1029.2,1202.7 1030.6,1201.1 1032.1,1199.4 1033.5,1197.8 1035.0,1196.2 1036.4,1194.7 1037.7,1193.1 1039.1,1191.6 1040.5,1190.1 1042.0,1188.7 1043.8,1187.5 1046.2,1186.1 1048.9,1184.7 1051.9,1183.4 1054.8,1182.4 1057.6,1181.9 1060.0,1182.0 1061.7,1182.7 1063.2,1183.8 1064.6,1185.2 1065.9,1186.8 1067.3,1188.4 1068.8,1190.0 1070.7,1191.9 1072.7,1193.8 1074.8,1195.9 1076.9,1197.9 1079.0,1200.0 1081.0,1202.0 1082.9,1203.9 1084.9,1205.7 1086.8,1207.5 1088.7,1209.3 1090.6,1211.2 1092.5,1213.0 1094.4,1214.8 1096.3,1216.7 1098.1,1218.5 1100.0,1220.3 1101.9,1222.2 1103.8,1224.0 1105.0,1219.4 1106.3,1214.8 1107.6,1210.2 1108.9,1205.6 1110.1,1201.0 1111.2,1196.2 1112.4,1191.0 1113.4,1185.6 1114.4,1180.0 1115.4,1174.6 1116.4,1169.6 1117.5,1165.0 1118.3,1162.2 1119.1,1159.6 1120.0,1157.1 1120.8,1154.8 1121.7,1152.4 1122.5,1150.0 1123.6,1149.7 1124.7,1149.4 1125.7,1149.1 1126.8,1148.8 1127.8,1148.3 1128.8,1147.5 1130.1,1145.7 1131.2,1143.2 1132.2,1140.3 1133.1,1137.2 1134.0,1134.1 1135.0,1131.2 1135.8,1130.8 1136.6,1130.3 1137.4,1129.8 1138.2,1129.3 1139.1,1129.0 1140.0,1128.8 1141.5,1128.8 1143.1,1129.1 1144.8,1129.6 1146.5,1130.1 1148.3,1130.7 1150.0,1131.2 1151.7,1131.7 1153.3,1132.1 1155.0,1132.6 1156.7,1133.1 1158.3,1133.5 1160.0,1134.0 1160.8,1130.9 1161.7,1127.8 1162.5,1124.7 1163.4,1121.5 1164.2,1118.3 1165.0,1115.0 1165.9,1111.0 1166.7,1106.9 1167.5,1102.7 1168.4,1098.5 1169.2,1094.2 1170.0,1090.0 1170.8,1085.8 1171.6,1081.7 1172.4,1077.5 1173.2,1073.3 1174.1,1069.2 1175.0,1065.0 1176.1,1060.9 1177.3,1057.0 1178.5,1053.1 1179.7,1049.0 1180.9,1044.7 1182.0,1040.0 1183.4,1032.7 1184.6,1024.6 1185.8,1016.1 1186.9,1007.3 1187.8,998.5 1188.8,990.0 1189.5,981.7 1190.2,973.3 1190.8,965.0 1191.4,956.7 1191.9,948.3 1192.5,940.0 1193.1,931.5 1193.7,922.9 1194.4,914.2 1195.0,905.7 1195.6,897.6 1196.2,890.0 1196.7,884.6 1197.2,879.4 1197.7,874.5 1198.2,869.7 1198.7,864.9 1199.2,860.0 1199.7,855.0 1200.1,850.0 1200.6,845.0 1201.0,840.0 1201.5,835.0 1201.9,830.0 1202.3,825.1 1202.8,820.3 1203.2,815.4 1203.6,810.5 1204.1,805.4 1204.5,800.0 1205.1,792.6 1205.7,784.6 1206.3,776.3 1206.9,768.0 1207.5,760.0 1208.1,752.5 1208.6,746.9 1209.0,741.5 1209.5,736.2 1210.0,731.2 1210.6,726.2 1211.2,721.2 1212.0,716.9 1212.8,712.7 1213.6,708.6 1214.5,704.5 1215.4,700.4 1216.2,696.2 1217.1,692.0 1217.9,687.8 1218.8,683.5 1219.6,679.3 1220.5,675.2 1221.2,671.2 1221.9,667.9 1222.6,664.7 1223.2,661.5 1223.8,658.4 1224.4,655.4 1225.0,652.5 1225.5,650.4 1225.9,648.4 1226.3,646.5 1226.7,644.6 1227.1,642.5 1227.5,640.0 1228.1,634.6 1228.5,628.3 1228.9,621.3 1229.2,614.0 1229.6,606.8 1230.0,600.0 1230.4,594.0 1230.8,588.3 1231.3,582.7 1231.7,576.9 1232.1,570.7 1232.5,564.0 1233.0,553.1 1233.4,541.1 1233.9,528.3 1234.2,515.2 1234.6,502.3 1235.0,490.0 1235.3,479.2 1235.7,468.4 1236.0,457.8 1236.3,447.4 1236.6,437.3 1236.9,427.5 1237.2,419.4 1237.5,411.6 1237.8,403.9 1238.1,396.4 1238.4,388.9 1238.8,381.2 1335.6,381.2 1336.0,388.9 1336.4,396.4 1336.8,403.9 1337.3,411.6 1337.7,419.4 1338.1,427.5 1338.6,437.3 1339.1,447.4 1339.6,457.8 1340.1,468.4 1340.6,479.2 1341.2,490.0 1342.0,502.0 1342.8,514.2 1343.6,526.6 1344.4,539.0 1345.3,551.5 1346.2,564.0 1347.2,576.9 1348.3,590.2 1349.4,603.6 1350.5,616.6 1351.5,628.9 1352.5,640.0 1353.2,647.0 1353.8,653.5 1354.4,659.6 1355.0,665.5 1355.6,671.4 1356.2,677.5 1356.9,683.8 1357.6,690.0 1358.3,696.3 1359.0,702.5 1359.8,708.8 1360.5,715.0 1361.2,721.3 1362.0,727.5 1362.7,733.8 1363.5,740.1 1364.2,746.3 1365.0,752.5 1365.7,758.5 1366.5,764.6 1367.2,770.7 1367.9,776.7 1368.7,782.5 1369.5,788.0 1370.2,792.4 1371.0,796.7 1371.7,800.8 1372.5,804.8 1373.3,808.9 1374.0,813.0 1374.7,817.2 1375.4,821.3 1376.0,825.5 1376.6,829.7 1377.3,833.8 1378.0,838.0 1378.7,842.2 1379.4,846.5 1380.1,850.7 1380.9,854.9 1381.7,859.1 1382.5,863.0 1383.2,866.3 1384.0,869.6 1384.8,872.8 1385.6,875.9 1386.5,878.9 1387.5,881.8 1388.4,884.0 1389.4,886.2 1390.5,888.3 1391.6,890.3 1392.7,892.3 1393.8,894.2 1394.8,896.0 1395.9,897.7 1397.0,899.4 1398.1,901.0 1399.1,902.6 1400.0,904.2 1400.7,905.7 1401.4,907.1 1402.1,908.5 1402.7,910.0 1403.2,911.4 1403.8,913.0 1404.3,914.9 1404.7,917.0 1405.0,919.1 1405.4,921.2 1405.8,923.4 1406.2,925.5 1406.7,927.7 1407.2,929.9 1407.7,932.1 1408.3,934.3 1409.1,936.2 1410.0,938.0 1411.0,939.3 1412.2,940.4 1413.4,941.4 1414.7,942.4 1416.1,943.3 1417.5,944.2 1419.1,945.3 1420.7,946.4 1422.3,947.4 1424.0,948.4 1425.8,949.5 1427.5,950.5 1429.3,951.6 1431.2,952.7 1433.1,953.8 1435.0,954.8 1436.9,955.9 1438.8,957.0 1439.6,952.0 1440.5,947.0 1441.3,942.0 1442.2,936.9 1443.0,931.8 1443.8,926.5 1444.5,920.3 1445.1,914.0 1445.7,907.5 1446.3,901.0 1446.9,894.4 1447.5,888.0 1448.1,881.7 1448.7,875.5 1449.4,869.2 1450.0,863.0 1450.6,856.7 1451.2,850.5 1451.9,844.2 1452.5,837.9 1453.1,831.5 1453.8,825.2 1454.4,819.1 1455.0,813.0 1455.5,807.5 1456.1,802.1 1456.6,796.7 1457.1,791.5 1457.6,786.5 1458.1,781.8 1458.4,778.5 1458.8,775.5 1459.1,772.6 1459.4,769.7 1459.7,766.6 1460.0,763.0 1460.5,756.2 1460.9,748.4 1461.3,740.0 1461.7,731.2 1462.1,722.5 1462.5,714.0 1462.9,705.7 1463.2,697.4 1463.5,689.0 1463.8,680.7 1464.1,672.3 1464.4,664.0 1464.7,655.7 1465.0,647.3 1465.2,639.0 1465.5,630.7 1465.9,622.3 1466.2,614.0 1466.7,605.7 1467.2,597.3 1467.7,589.0 1468.3,580.6 1468.9,572.3 1469.4,564.0 1469.9,555.8 1470.4,547.6 1471.0,539.5 1471.5,531.4 1472.0,523.2 1472.5,515.0 1473.0,506.6 1473.5,498.1 1474.0,489.6 1474.5,481.2 1475.1,472.9 1475.6,465.0 1476.1,458.3 1476.6,451.8 1477.1,445.4 1477.6,439.2 1478.2,433.2 1478.8,427.5 1479.2,423.0 1479.7,418.5 1480.2,414.3 1480.8,410.2 1481.3,406.2 1481.9,402.5 1482.4,399.7 1482.8,396.9 1483.2,394.3 1483.7,391.8 1484.3,389.5 1485.0,387.5 1485.5,386.3 1486.2,385.2 1486.8,384.2 1487.5,383.2 1488.1,382.3 1488.8,381.2 1516.9,381.2 1517.2,388.9 1517.5,396.6 1517.8,404.3 1518.1,412.0 1518.4,419.7 1518.8,427.5 1519.1,435.8 1519.5,444.3 1519.9,452.8 1520.4,461.3 1520.8,469.6 1521.2,477.5 1521.6,484.0 1522.0,490.2 1522.4,496.3 1522.9,502.3 1523.3,508.5 1523.8,515.0 1524.3,522.9 1524.9,531.1 1525.5,539.5 1526.2,547.9 1526.8,556.1 1527.5,564.0 1528.1,570.5 1528.7,576.9 1529.3,583.1 1530.0,589.2 1530.6,595.3 1531.2,601.5 1531.9,607.7 1532.5,614.0 1533.1,620.2 1533.8,626.5 1534.4,632.7 1535.0,639.0 1535.6,645.3 1536.2,651.6 1536.8,657.9 1537.4,664.2 1537.9,670.4 1538.5,676.5 1539.0,682.3 1539.5,688.3 1540.0,694.2 1540.4,699.9 1541.0,705.2 1541.5,710.0 1541.9,712.8 1542.3,715.3 1542.7,717.6 1543.1,719.9 1543.6,722.3 1544.0,725.0 1544.6,728.8 1545.1,732.9 1545.7,737.1 1546.3,741.4 1546.9,745.8 1547.5,750.0 1548.1,754.2 1548.7,758.3 1549.3,762.4 1549.9,766.6 1550.5,770.8 1551.2,775.0 1552.1,780.2 1552.9,786.2 1553.7,792.3 1554.7,797.6 1555.7,801.5 1556.9,803.0 1557.9,802.3 1559.1,800.4 1560.3,797.5 1561.6,794.2 1562.7,790.7 1563.8,787.5 1564.9,783.6 1565.8,779.5 1566.7,775.2 1567.5,770.7 1568.3,766.3 1569.0,762.0 1569.6,757.9 1570.2,753.8 1570.7,749.7 1571.2,745.7 1571.6,741.6 1572.0,737.5 1572.4,733.4 1572.8,729.3 1573.1,725.2 1573.4,721.1 1573.7,716.9 1574.0,712.5 1574.3,707.5 1574.6,702.4 1574.8,697.2 1575.0,691.8 1575.3,686.1 1575.5,680.0 1575.8,670.2 1576.2,659.4 1576.5,647.9 1576.8,636.2 1577.2,624.7 1577.5,614.0 1577.8,605.4 1578.1,597.2 1578.4,589.2 1578.8,581.1 1579.1,572.8 1579.4,564.0 1579.8,552.3 1580.2,539.9 1580.6,527.0 1581.0,514.1 1581.4,501.7 1581.9,490.0 1582.3,481.0 1582.6,472.2 1583.0,463.7 1583.4,455.4 1583.9,447.5 1584.4,440.0 1584.8,434.2 1585.3,428.7 1585.8,423.3 1586.3,418.1 1586.9,413.3 1587.5,408.8 1587.9,405.7 1588.3,402.8 1588.8,400.1 1589.3,397.5 1589.9,394.9 1590.6,392.5 1591.4,390.5 1592.3,388.5 1593.3,386.7 1594.3,384.9 1595.3,383.1 1596.2,381.2 1668.8,381.2 1669.3,386.8 1669.8,392.3 1670.4,397.7 1670.9,403.3 1671.4,409.0 1671.9,415.0 1672.5,422.8 1673.0,430.9 1673.5,439.4 1674.0,448.0 1674.5,456.6 1675.0,465.0 1675.5,473.3 1676.0,481.7 1676.5,490.0 1677.1,498.4 1677.6,506.7 1678.1,515.0 1678.6,523.2 1679.2,531.4 1679.7,539.6 1680.2,547.8 1680.7,555.9 1681.2,564.0 1681.7,571.7 1682.1,579.4 1682.5,587.0 1682.9,594.6 1683.4,602.2 1684.0,610.0 1684.7,618.3 1685.5,626.7 1686.3,635.2 1687.2,643.7 1688.1,652.0 1689.0,660.0 1689.8,666.9 1690.6,673.7 1691.4,680.4 1692.2,686.9 1693.0,693.5 1693.8,700.0 1694.5,706.3 1695.2,712.6 1695.9,718.8 1696.6,725.0 1697.3,731.3 1698.0,737.5 1698.7,743.8 1699.5,750.3 1700.2,756.7 1701.0,763.1 1701.8,769.2 1702.5,775.0 1703.1,779.5 1703.7,783.7 1704.3,787.8 1704.9,791.9 1705.4,795.9 1706.0,800.0 1706.5,804.2 1707.0,808.3 1707.5,812.5 1708.0,816.7 1708.5,820.8 1709.0,825.0 1709.6,829.2 1710.1,833.3 1710.7,837.5 1711.3,841.7 1711.9,845.8 1712.5,850.0 1713.1,854.2 1713.7,858.4 1714.2,862.7 1714.9,866.9 1715.5,871.0 1716.2,875.0 1716.9,878.6 1717.7,882.2 1718.4,885.7 1719.2,889.1 1720.2,892.2 1721.2,895.0 1722.1,896.8 1723.0,898.5 1724.0,900.1 1725.1,901.6 1726.2,902.9 1727.5,904.0 1728.8,904.9 1730.1,905.6 1731.5,906.1 1733.0,906.6 1734.5,907.1 1736.2,907.5 1739.0,908.1 1742.1,908.5 1745.4,908.9 1748.8,909.2 1752.0,909.6 1755.0,910.0 1757.2,910.4 1759.4,910.7 1761.4,911.1 1763.5,911.5 1765.5,911.9 1767.5,912.5 1769.6,913.2 1771.6,913.9 1773.7,914.7 1775.7,915.6 1777.8,916.5 1780.0,917.5 1782.6,918.7 1785.3,920.0 1788.0,921.4 1790.8,922.7 1793.5,924.1 1796.2,925.5 1798.2,925.1 1800.3,924.9 1802.4,924.7 1804.3,924.3 1806.1,923.6 1807.5,922.5 1808.8,920.0 1809.5,916.6 1809.7,912.7 1809.7,908.4 1809.8,904.1 1810.0,900.0 1810.4,895.9 1810.8,891.8 1811.3,887.6 1811.7,883.4 1812.1,879.2 1812.5,875.0 1812.9,870.8 1813.3,866.7 1813.7,862.5 1814.1,858.3 1814.5,854.2 1815.0,850.0 1815.6,845.8 1816.2,841.7 1816.8,837.5 1817.5,833.3 1818.1,829.2 1818.8,825.0 1819.4,820.9 1820.0,816.8 1820.6,812.8 1821.2,808.7 1821.8,804.4 1822.5,800.0 1823.4,794.3 1824.4,788.4 1825.4,782.3 1826.4,776.0 1827.3,769.6 1828.1,763.0 1828.8,755.2 1829.3,747.2 1829.6,739.0 1830.0,730.6 1830.3,722.3 1830.6,714.0 1830.9,705.7 1831.3,697.4 1831.6,689.0 1831.8,680.7 1832.2,672.3 1832.5,664.0 1832.9,655.7 1833.3,647.3 1833.7,639.0 1834.2,630.7 1834.6,622.3 1835.0,614.0 1835.4,605.7 1835.7,597.3 1836.0,589.0 1836.3,580.6 1836.6,572.3 1837.0,564.0 1837.4,555.7 1837.9,547.4 1838.4,539.1 1838.9,530.8 1839.4,522.8 1840.0,515.0 1840.6,508.5 1841.2,502.1 1841.8,495.9 1842.5,489.8 1843.1,483.7 1843.8,477.5 1844.4,471.1 1845.0,464.6 1845.5,458.1 1846.2,451.8 1846.8,445.7 1847.5,440.0 1848.1,435.9 1848.6,432.0 1849.2,428.2 1849.8,424.6 1850.5,421.0 1851.2,417.5 1852.0,414.4 1852.8,411.4 1853.7,408.4 1854.6,405.5 1855.4,402.7 1856.2,400.0 1856.9,397.7 1857.5,395.5 1858.1,393.3 1858.7,391.2 1859.3,389.3 1860.0,387.5 1860.6,386.3 1861.2,385.2 1861.8,384.2 1862.5,383.2 1863.1,382.3 1863.8,381.2 1892.5,381.2 1892.9,384.7 1893.3,388.1 1893.7,391.5 1894.1,395.0 1894.6,398.6 1895.0,402.5 1895.6,408.1 1896.2,414.2 1896.8,420.6 1897.4,427.1 1898.0,433.6 1898.8,440.0 1899.5,446.3 1900.4,452.5 1901.2,458.8 1902.1,465.0 1903.0,471.2 1903.8,477.5 1904.5,483.7 1905.1,489.8 1905.8,495.9 1906.4,502.1 1906.9,508.5 1907.5,515.0 1908.1,522.8 1908.6,530.8 1909.1,539.1 1909.5,547.4 1910.0,555.7 1910.5,564.0 1911.0,572.3 1911.5,580.6 1911.9,589.0 1912.4,597.3 1913.0,605.7 1913.8,614.0 1914.6,622.3 1915.6,630.7 1916.7,639.0 1917.8,647.3 1918.9,655.7 1920.0,664.0 1921.1,672.5 1922.1,681.3 1923.2,690.0 1924.3,698.5 1925.3,706.6 1926.2,714.0 1926.9,718.8 1927.4,723.3 1928.0,727.5 1928.5,731.6 1929.1,735.7 1929.7,740.0 1930.4,744.7 1931.1,749.5 1931.9,754.3 1932.7,759.0 1933.5,763.7 1934.4,768.3 1935.3,772.4 1936.2,776.4 1937.1,780.3 1938.1,784.2 1939.1,788.0 1940.1,791.8 1941.1,795.3 1942.0,798.8 1943.0,802.2 1944.0,805.7 1945.0,809.1 1946.0,812.5" stroke="#D95319"/>
</g>
<rect x="1311" y="187" width="595" height="133" fill="#fff"/>
<g shape-rendering="crispEdges">
<rect x="1309.6" y="185.8" width="598.2" height="3" fill="#666"/>
<rect x="1312.6" y="188.8" width="590" height="2.7" fill="#e4e4e4"/>
<rect x="1309.6" y="185.8" width="3" height="134" fill="#555"/>
<rect x="1904.9" y="185.8" width="2.9" height="134" fill="#6a6a6a"/>
<rect x="1902" y="191.5" width="2.9" height="125.5" fill="#e2e2e2"/>
<rect x="1309.6" y="317" width="595.3" height="5.7" fill="#a8a8a8"/>
</g>
<line x1="1326.5" y1="223.7" x2="1472.5" y2="223.7" stroke="#0072BD" stroke-width="9"/>
<line x1="1326.5" y1="283" x2="1472.5" y2="283" stroke="#D95319" stroke-width="9"/>
<text transform="translate(1483.99,246.60) scale(0.9974,1.0000)" font-family="'Liberation Sans', Arial, Helvetica, sans-serif" font-size="44.3" fill="#1a1a1a">Simulation Model</text>
<text transform="translate(1482.66,307.20) scale(0.9993,1.0000)" font-family="'Liberation Sans', Arial, Helvetica, sans-serif" font-size="44.3" fill="#1a1a1a">Fault Analysis Model</text>
</svg></body></html>
